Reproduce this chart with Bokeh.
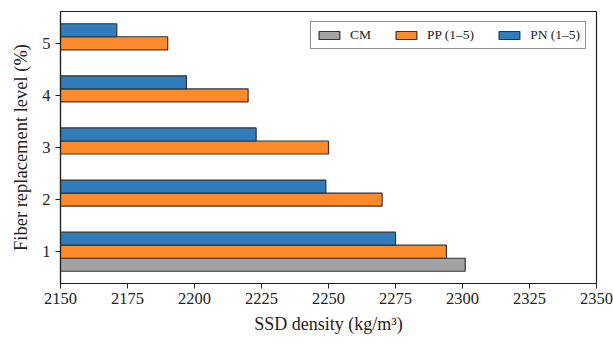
from bokeh.plotting import figure
from bokeh.models import Range1d, FixedTicker, ColumnDataSource, Legend, LegendItem
from bokeh.transform import dodge
from bokeh.embed import file_html
from bokeh.resources import INLINE

levels = [1, 2, 3, 4, 5]
pp_values = [2294, 2270, 2250, 2220, 2190]
pn_values = [2275, 2249, 2223, 2197, 2171]
cm_level = [1]
cm_values = [2301]
x_ticks = [2150, 2175, 2200, 2225, 2250, 2275, 2300, 2325, 2350]
y_ticks = [1, 2, 3, 4, 5]

FONT = "Liberation Serif"
BLUE = "#2f7dbd"
ORANGE = "#fd8a2b"
GREY = "#a3a3a3"

p = figure(width=613, height=343, output_backend="svg", toolbar_location=None,
           x_range=Range1d(2150, 2350), y_range=Range1d(0.39, 5.61),
           min_border_left=60, min_border_right=17, min_border_top=11, min_border_bottom=60)

src_pp = ColumnDataSource(dict(level=levels, v=pp_values))
src_pn = ColumnDataSource(dict(level=levels, v=pn_values))
src_cm = ColumnDataSource(dict(level=cm_level, v=cm_values))

bw = 0.25
r_cm = p.hbar(y=dodge("level", -0.25), right="v", left=0, height=bw, source=src_cm,
              fill_color=GREY, line_color="#333333", line_width=1.2)
r_pp = p.hbar(y=dodge("level", 0.0), right="v", left=0, height=bw, source=src_pp,
              fill_color=ORANGE, line_color="#333333", line_width=1.2)
r_pn = p.hbar(y=dodge("level", 0.25), right="v", left=0, height=bw, source=src_pn,
              fill_color=BLUE, line_color="#333333", line_width=1.2)

p.xaxis.ticker = FixedTicker(ticks=x_ticks)
p.yaxis.ticker = FixedTicker(ticks=y_ticks)
p.xaxis.minor_tick_line_color = None
p.yaxis.minor_tick_line_color = None
for ax in (p.xaxis, p.yaxis):
    ax.major_tick_in = 0
    ax.major_tick_out = 5
    ax.major_tick_line_color = "#222222"
    ax.axis_line_color = "#222222"
    ax.axis_line_width = 1.2
    ax.major_label_text_font = FONT
    ax.major_label_text_font_size = "16.5px"
    ax.major_label_text_color = "#222222"
    ax.axis_label_text_font = FONT
    ax.axis_label_text_font_size = "18px"
    ax.axis_label_text_font_style = "normal"
    ax.axis_label_text_color = "#222222"
p.xaxis.axis_label = "SSD density (kg/m³)"
p.yaxis.axis_label = "Fiber replacement level (%)"
p.yaxis.axis_label_text_font_size = "18.5px"
p.xaxis.major_label_standoff = 4
p.yaxis.major_label_standoff = 5
p.yaxis.axis_label_standoff = 8
p.xaxis.axis_label_standoff = 7
p.xgrid.visible = False
p.ygrid.visible = False
p.outline_line_color = "#222222"
p.outline_line_width = 1.2

legend = Legend(items=[LegendItem(label="CM", renderers=[r_cm]),
                       LegendItem(label="PP (1–5)", renderers=[r_pp]),
                       LegendItem(label="PN (1–5)", renderers=[r_pn])],
                location="top_right", orientation="horizontal")
legend.label_text_font = FONT
legend.label_text_font_size = "13.5px"
legend.label_text_color = "#222222"
legend.glyph_width = 26
legend.glyph_height = 10
legend.spacing = 22
legend.padding = 5
legend.margin = 10
legend.label_standoff = 8
legend.border_line_color = "#222222"
legend.border_line_width = 1.2
legend.background_fill_alpha = 1
p.add_layout(legend, "center")

open("out.html", "w").write(file_html(p, INLINE))
